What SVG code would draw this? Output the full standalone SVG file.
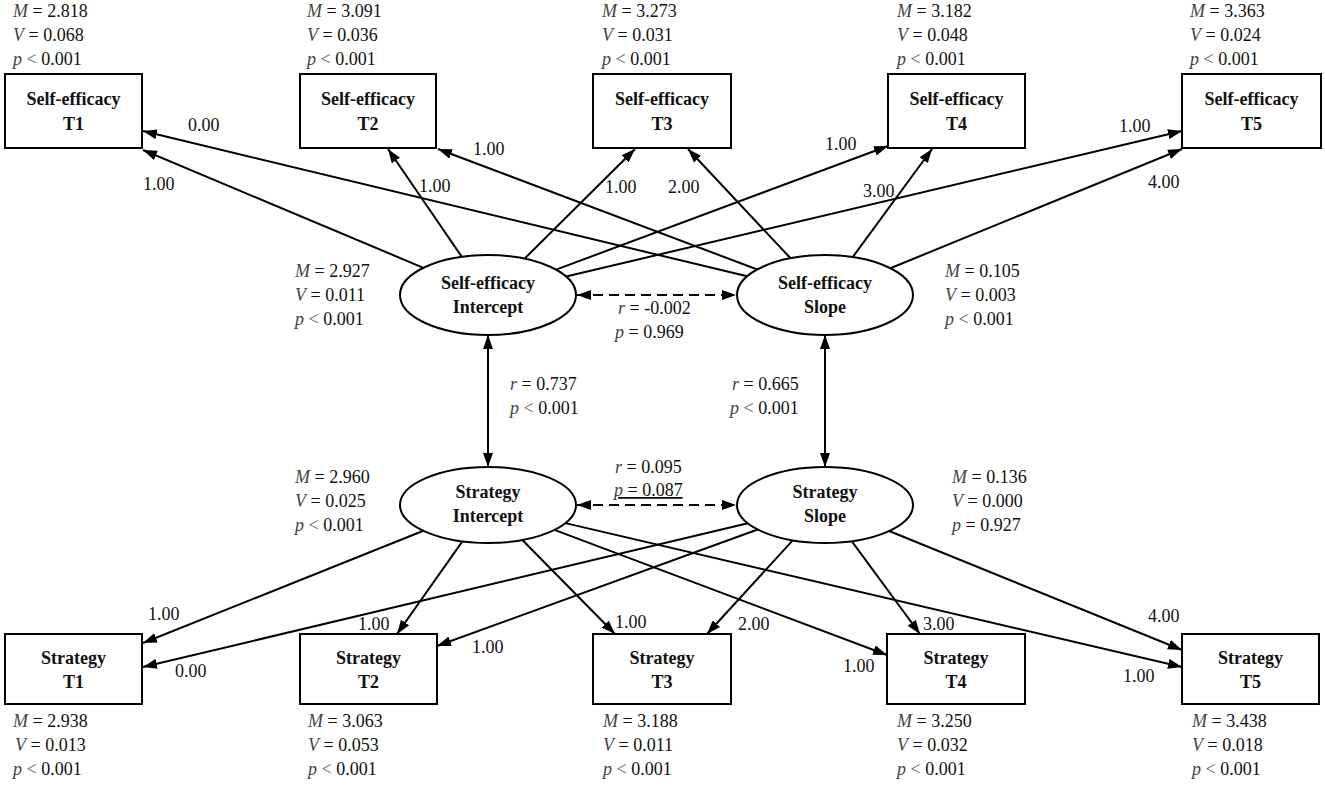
<svg xmlns="http://www.w3.org/2000/svg" width="1325" height="787" viewBox="0 0 1325 787" font-family="Liberation Serif, Tinos, DejaVu Serif, serif" font-size="18">
<defs>
<marker id="ah" viewBox="0 0 14 10" refX="14" refY="5" markerWidth="14" markerHeight="10" markerUnits="userSpaceOnUse" orient="auto-start-reverse">
<path d="M0,0 L14,5 L0,10 z" fill="#000"/>
</marker>
<style>
text{fill:#111;}
.b{font-weight:bold;text-anchor:middle;}
.i{font-style:italic;fill:#444;}
.g{fill:#666;}
.box{fill:#fff;stroke:#000;stroke-width:2;}
.ell{fill:#fff;stroke:#000;stroke-width:2;}
.e{stroke:#000;stroke-width:2;fill:none;marker-end:url(#ah);}
.d{stroke:#000;stroke-width:2;fill:none;marker-end:url(#ah);marker-start:url(#ah);}
.dash{stroke-dasharray:10,6;}
</style>
</defs>
<rect width="1325" height="787" fill="#fff"/>

<g id="connectors">
<line class="e" x1="423.4" y1="267.8" x2="143" y2="150"/>
<line class="e" x1="747.2" y1="276.3" x2="143" y2="131"/>
<line class="e" x1="461.8" y1="256.8" x2="388" y2="149"/>
<line class="e" x1="757.3" y1="269.5" x2="438" y2="149"/>
<line class="e" x1="524.6" y1="258.6" x2="635" y2="149"/>
<line class="e" x1="790.5" y1="258.2" x2="688" y2="149"/>
<line class="e" x1="556.1" y1="269.6" x2="888" y2="146"/>
<line class="e" x1="852.8" y1="257" x2="932" y2="149"/>
<line class="e" x1="566.1" y1="276.5" x2="1182" y2="131"/>
<line class="e" x1="890.4" y1="268.2" x2="1182" y2="149"/>

<line class="e" x1="423.4" y1="530.8" x2="143" y2="643"/>
<line class="e" x1="747.9" y1="523.3" x2="143" y2="667"/>
<line class="e" x1="462.4" y1="541.4" x2="397" y2="634"/>
<line class="e" x1="757.7" y1="529.5" x2="437" y2="646"/>
<line class="e" x1="522.4" y1="540" x2="615" y2="634"/>
<line class="e" x1="792.7" y1="540.3" x2="707" y2="634"/>
<line class="e" x1="554.4" y1="529.9" x2="887" y2="655"/>
<line class="e" x1="851.7" y1="541.2" x2="920" y2="634"/>
<line class="e" x1="565.4" y1="523.1" x2="1182" y2="667"/>
<line class="e" x1="889.1" y1="531" x2="1182" y2="650"/>

<line class="d" x1="488" y1="335" x2="488" y2="467"/>
<line class="d" x1="825" y1="335" x2="825" y2="467"/>
<line class="d dash" x1="577" y1="295" x2="736" y2="295"/>
<line class="d dash" x1="577" y1="505" x2="736" y2="505"/>

<text x="143" y="190">1.00</text>
<text x="188" y="131">0.00</text>
<text x="419" y="192">1.00</text>
<text x="473" y="155">1.00</text>
<text x="605" y="193">1.00</text>
<text x="668" y="193">2.00</text>
<text x="825" y="150">1.00</text>
<text x="863" y="197">3.00</text>
<text x="1119" y="132">1.00</text>
<text x="1148" y="188">4.00</text>
<text x="148" y="620">1.00</text>
<text x="175" y="677">0.00</text>
<text x="358" y="630">1.00</text>
<text x="472" y="653">1.00</text>
<text x="615" y="628">1.00</text>
<text x="738" y="630">2.00</text>
<text x="843" y="672">1.00</text>
<text x="923" y="630">3.00</text>
<text x="1123" y="682">1.00</text>
<text x="1148" y="622">4.00</text>

<text x="618" y="314"><tspan class="i">r</tspan> = -0.002</text>
<text x="615" y="338"><tspan class="i">p</tspan> = 0.969</text>
<text x="615" y="473"><tspan class="i">r</tspan> = 0.095</text>
<text x="614" y="496" text-decoration="underline"><tspan class="i">p</tspan> = 0.087</text>
<text x="510" y="390"><tspan class="i">r</tspan> = 0.737</text>
<text x="510" y="414"><tspan class="i">p</tspan> <tspan class="g">&lt;</tspan> 0.001</text>
<text x="732" y="390"><tspan class="i">r</tspan> = 0.665</text>
<text x="730" y="414"><tspan class="i">p</tspan> <tspan class="g">&lt;</tspan> 0.001</text>
</g>

<g id="se_t1">
<text x="13" y="17"><tspan class="i">M</tspan> = 2.818</text>
<text x="13" y="41"><tspan class="i">V</tspan> = 0.068</text>
<text x="13" y="65"><tspan class="i">p</tspan> <tspan class="g">&lt;</tspan> 0.001</text>
<rect class="box" x="5" y="74" width="137" height="74"/>
<text class="b" x="73.5" y="105">Self-efficacy</text>
<text class="b" x="73.5" y="130">T1</text>
</g>
<g id="se_t2">
<text x="307" y="17"><tspan class="i">M</tspan> = 3.091</text>
<text x="307" y="41"><tspan class="i">V</tspan> = 0.036</text>
<text x="307" y="65"><tspan class="i">p</tspan> <tspan class="g">&lt;</tspan> 0.001</text>
<rect class="box" x="300" y="74" width="136" height="74"/>
<text class="b" x="368" y="105">Self-efficacy</text>
<text class="b" x="368" y="130">T2</text>
</g>
<g id="se_t3">
<text x="602" y="17"><tspan class="i">M</tspan> = 3.273</text>
<text x="602" y="41"><tspan class="i">V</tspan> = 0.031</text>
<text x="602" y="65"><tspan class="i">p</tspan> <tspan class="g">&lt;</tspan> 0.001</text>
<rect class="box" x="593" y="74" width="138" height="74"/>
<text class="b" x="662" y="105">Self-efficacy</text>
<text class="b" x="662" y="130">T3</text>
</g>
<g id="se_t4">
<text x="897" y="17"><tspan class="i">M</tspan> = 3.182</text>
<text x="897" y="41"><tspan class="i">V</tspan> = 0.048</text>
<text x="897" y="65"><tspan class="i">p</tspan> <tspan class="g">&lt;</tspan> 0.001</text>
<rect class="box" x="888" y="74" width="137" height="74"/>
<text class="b" x="956.5" y="105">Self-efficacy</text>
<text class="b" x="956.5" y="130">T4</text>
</g>
<g id="se_t5">
<text x="1190" y="17"><tspan class="i">M</tspan> = 3.363</text>
<text x="1190" y="41"><tspan class="i">V</tspan> = 0.024</text>
<text x="1190" y="65"><tspan class="i">p</tspan> <tspan class="g">&lt;</tspan> 0.001</text>
<rect class="box" x="1182" y="74" width="139" height="74"/>
<text class="b" x="1251.5" y="105">Self-efficacy</text>
<text class="b" x="1251.5" y="130">T5</text>
</g>

<g id="se_intercept">
<ellipse class="ell" cx="488" cy="295" rx="88" ry="40"/>
<text class="b" x="488" y="289">Self-efficacy</text>
<text class="b" x="488" y="313">Intercept</text>
<text x="295" y="277"><tspan class="i">M</tspan> = 2.927</text>
<text x="295" y="301"><tspan class="i">V</tspan> = 0.011</text>
<text x="295" y="325"><tspan class="i">p</tspan> <tspan class="g">&lt;</tspan> 0.001</text>
</g>
<g id="se_slope">
<ellipse class="ell" cx="825" cy="295" rx="88" ry="40"/>
<text class="b" x="825" y="289">Self-efficacy</text>
<text class="b" x="825" y="313">Slope</text>
<text x="945" y="277"><tspan class="i">M</tspan> = 0.105</text>
<text x="945" y="301"><tspan class="i">V</tspan> = 0.003</text>
<text x="945" y="325"><tspan class="i">p</tspan> <tspan class="g">&lt;</tspan> 0.001</text>
</g>
<g id="st_intercept">
<ellipse class="ell" cx="488" cy="505" rx="88" ry="38"/>
<text class="b" x="488" y="498">Strategy</text>
<text class="b" x="488" y="522">Intercept</text>
<text x="295" y="483"><tspan class="i">M</tspan> = 2.960</text>
<text x="295" y="507"><tspan class="i">V</tspan> = 0.025</text>
<text x="295" y="531"><tspan class="i">p</tspan> <tspan class="g">&lt;</tspan> 0.001</text>
</g>
<g id="st_slope">
<ellipse class="ell" cx="825" cy="505" rx="88" ry="38"/>
<text class="b" x="825" y="498">Strategy</text>
<text class="b" x="825" y="522">Slope</text>
<text x="952" y="483"><tspan class="i">M</tspan> = 0.136</text>
<text x="952" y="507"><tspan class="i">V</tspan> = 0.000</text>
<text x="952" y="531"><tspan class="i">p</tspan> = 0.927</text>
</g>

<g id="st_t1">
<rect class="box" x="5" y="634" width="137" height="70"/>
<text class="b" x="73.5" y="664">Strategy</text>
<text class="b" x="73.5" y="688">T1</text>
<text x="13" y="727"><tspan class="i">M</tspan> = 2.938</text>
<text x="15" y="751"><tspan class="i">V</tspan> = 0.013</text>
<text x="13" y="775"><tspan class="i">p</tspan> <tspan class="g">&lt;</tspan> 0.001</text>
</g>
<g id="st_t2">
<rect class="box" x="300" y="634" width="137" height="70"/>
<text class="b" x="368.5" y="664">Strategy</text>
<text class="b" x="368.5" y="688">T2</text>
<text x="308" y="727"><tspan class="i">M</tspan> = 3.063</text>
<text x="308" y="751"><tspan class="i">V</tspan> = 0.053</text>
<text x="308" y="775"><tspan class="i">p</tspan> <tspan class="g">&lt;</tspan> 0.001</text>
</g>
<g id="st_t3">
<rect class="box" x="593" y="634" width="138" height="70"/>
<text class="b" x="662" y="664">Strategy</text>
<text class="b" x="662" y="688">T3</text>
<text x="603" y="727"><tspan class="i">M</tspan> = 3.188</text>
<text x="603" y="751"><tspan class="i">V</tspan> = 0.011</text>
<text x="603" y="775"><tspan class="i">p</tspan> <tspan class="g">&lt;</tspan> 0.001</text>
</g>
<g id="st_t4">
<rect class="box" x="887" y="634" width="138" height="70"/>
<text class="b" x="956" y="664">Strategy</text>
<text class="b" x="956" y="688">T4</text>
<text x="897" y="727"><tspan class="i">M</tspan> = 3.250</text>
<text x="897" y="751"><tspan class="i">V</tspan> = 0.032</text>
<text x="897" y="775"><tspan class="i">p</tspan> <tspan class="g">&lt;</tspan> 0.001</text>
</g>
<g id="st_t5">
<rect class="box" x="1182" y="634" width="137" height="70"/>
<text class="b" x="1250.5" y="664">Strategy</text>
<text class="b" x="1250.5" y="688">T5</text>
<text x="1192" y="727"><tspan class="i">M</tspan> = 3.438</text>
<text x="1192" y="751"><tspan class="i">V</tspan> = 0.018</text>
<text x="1192" y="775"><tspan class="i">p</tspan> <tspan class="g">&lt;</tspan> 0.001</text>
</g>
</svg>
